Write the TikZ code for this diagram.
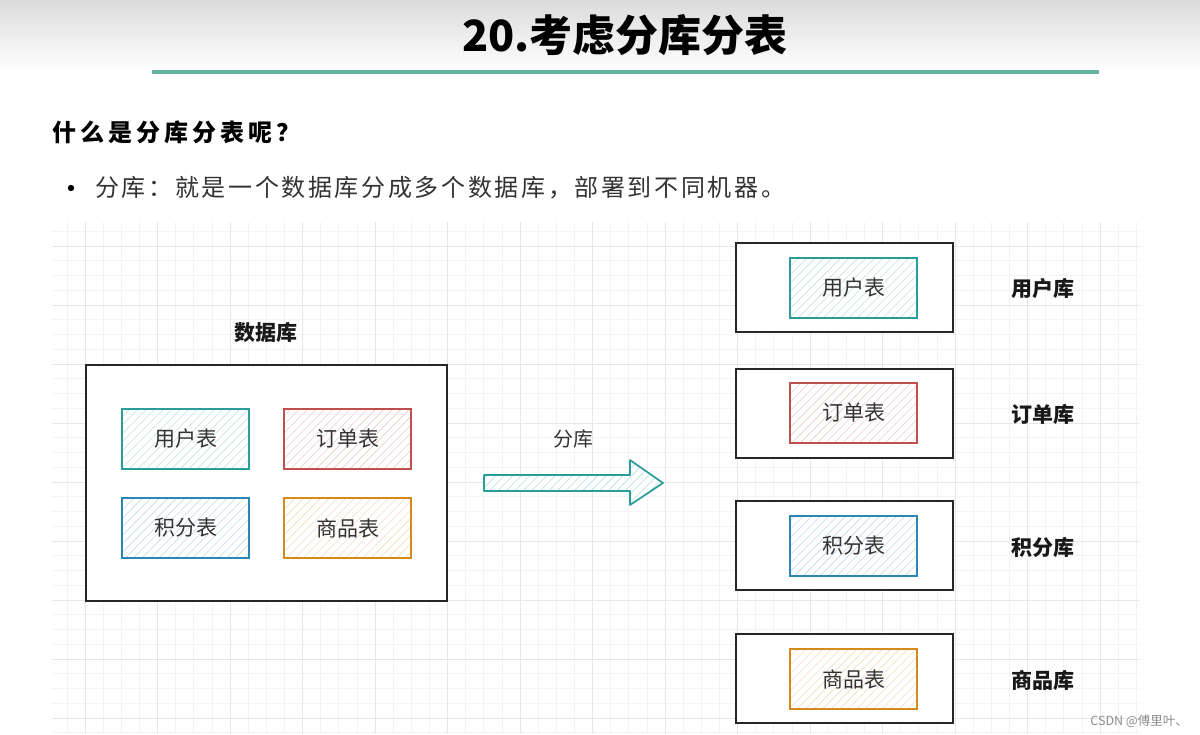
\documentclass[tikz,border=0pt]{standalone}
\usepackage{fontspec}
\setmainfont{Noto Sans CJK SC}
\usetikzlibrary{patterns.meta}
\definecolor{tealc}{HTML}{2A9D9A}
\definecolor{redc}{HTML}{C0504D}
\definecolor{bluec}{HTML}{2B86B5}
\definecolor{orangec}{HTML}{D68A1E}
\definecolor{rulec}{HTML}{62B3A2}
\definecolor{txt}{HTML}{333333}
\definecolor{gridmaj}{HTML}{E7E7E7}
\definecolor{gridmin}{HTML}{F3F3F3}
\tikzset{
  tbl/.style={draw=#1, line width=1.7pt, minimum width=127pt, minimum height=60pt,
    preaction={fill=white},
    pattern={Lines[angle=45,distance=6pt,line width=0.6pt]}, pattern color=#1!30,
    font=\fontsize{21}{21}\selectfont, text=txt},
  dbbox/.style={draw=black!85, line width=1.5pt, fill=white, inner sep=0pt},
  dblabel/.style={font=\fontsize{21}{21}\selectfont\bfseries, text=black!90},
}
\begin{document}
\begin{tikzpicture}[x=1pt,y=-1pt]
\useasboundingbox (0,0) rectangle (1200,734);
\fill[white] (0,0) rectangle (1200,734);
% header gradient
\shade[top color=black!14, bottom color=white] (0,0) rectangle (1200,72);
% grid
\begin{scope}
\clip (52,222) rectangle (1140,734);
\foreach \k in {-1,...,58}{
  \draw[gridmin, line width=0.6pt] ({85+18.125*\k},222) -- ({85+18.125*\k},734);
}
\foreach \k in {-1,...,34}{
  \draw[gridmin, line width=0.6pt] (52,{246+14.75*\k}) -- (1140,{246+14.75*\k});
}
\foreach \k in {0,...,14}{
  \draw[gridmaj, line width=0.8pt] ({85+72.5*\k},222) -- ({85+72.5*\k},734);
}
\foreach \k in {0,...,8}{
  \draw[gridmaj, line width=0.8pt] (52,{246+59*\k}) -- (1140,{246+59*\k});
}
\end{scope}
% title
\node[font=\fontsize{43}{43}\selectfont\bfseries, text=black] (title) at (625,35) {20.考虑分库分表};
\draw[rulec, line width=4pt] (152,72) coordinate (r1) -- (1099,72) coordinate (r2);
\node[anchor=west, font=\fontsize{24}{24}\selectfont\bfseries\addfontfeature{LetterSpace=17}, text=black, inner sep=0pt] (q) at (52,132) {什么是分库分表呢？};
\fill[black] (71,188) circle (3.2pt);
\node[anchor=west, font=\fontsize{24}{24}\selectfont\addfontfeature{LetterSpace=11}, text=txt, inner sep=0pt] (b) at (95,188) {分库：就是一个数据库分成多个数据库，部署到不同机器。};
% left database
\node[dblabel] (dbl) at (266,333) {数据库};
\node[dbbox, minimum width=361pt, minimum height=236pt] (db) at (266.5,483) {};
\node[tbl=tealc] (u1) at (185.5,439) {用户表};
\node[tbl=redc] (o1) at (347.5,439) {订单表};
\node[tbl=bluec] (j1) at (185.5,528) {积分表};
\node[tbl=orangec] (s1) at (347.5,528) {商品表};
% arrow
\node[font=\fontsize{20}{20}\selectfont, text=txt] (al) at (573,439) {分库};
\filldraw[draw=tealc, line width=1.7pt, preaction={fill=white},
  pattern={Lines[angle=45,distance=6pt,line width=0.6pt]}, pattern color=tealc!35, line join=round]
  (484,475) -- (630,475) -- (630,460) -- (663,483) -- (630,505) -- (630,491) -- (484,491) -- cycle;
% right databases
\node[dbbox, minimum width=217pt, minimum height=89pt] (d1) at (844.5,287.5) {};
\node[dbbox, minimum width=217pt, minimum height=89pt] (d2) at (844.5,413.5) {};
\node[dbbox, minimum width=217pt, minimum height=89pt] (d3) at (844.5,545.5) {};
\node[dbbox, minimum width=217pt, minimum height=89pt] (d4) at (844.5,678.5) {};
\node[tbl=tealc] (u2) at (853.5,288) {用户表};
\node[tbl=redc] (o2) at (853.5,413) {订单表};
\node[tbl=bluec] (j2) at (853.5,546) {积分表};
\node[tbl=orangec] (s2) at (853.5,679) {商品表};
\node[dblabel] (l1) at (1043,289) {用户库};
\node[dblabel] (l2) at (1043,414) {订单库};
\node[dblabel] (l3) at (1043,547) {积分库};
\node[dblabel] (l4) at (1043,680) {商品库};
\node[font=\fontsize{12.5}{12.5}\selectfont, text=black!45, anchor=east, inner sep=0pt] (wm) at (1188,721) {CSDN @傅里叶、};
\end{tikzpicture}
\end{document}
